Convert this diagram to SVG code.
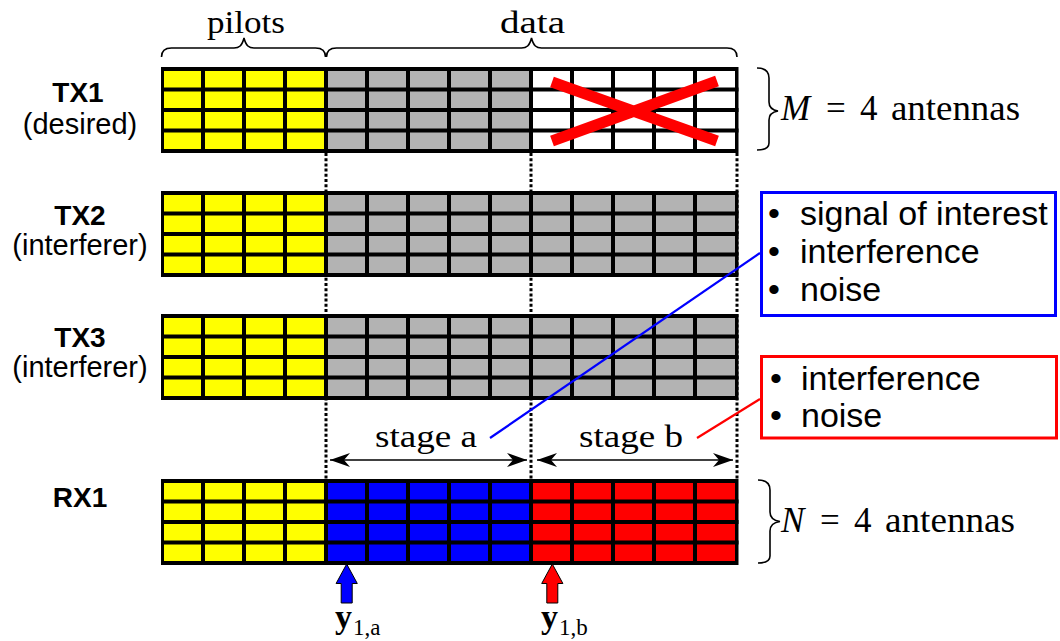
<svg xmlns="http://www.w3.org/2000/svg" xmlns:xlink="http://www.w3.org/1999/xlink" width="1060" height="641" viewBox="0 0 1060 641">
<style>
.frame{fill:#000}
.yel{fill:#FFFF00}
.gry{fill:#B3B3B3}
.wht{fill:#FFFFFF}
.blu{fill:#0000FF}
.red{fill:#FF0000}
.lblb{font-family:"Liberation Sans",Arial,sans-serif;font-weight:bold;font-size:28px;fill:#000;text-anchor:middle}
.lbln{font-family:"Liberation Sans",Arial,sans-serif;font-size:29px;fill:#000;text-anchor:middle}
.ser{font-family:"Liberation Serif","Times New Roman",serif;fill:#000}
.brace{fill:none;stroke:#000;stroke-width:1.6}
.dots{stroke:#000;stroke-width:3;stroke-dasharray:3 2.2;fill:none}
.leg{font-family:"Liberation Sans",Arial,sans-serif;font-size:34px;fill:#000}
</style>
<defs>
<path id="grid" fill="none" stroke="#000" stroke-width="4" d="M203,0V86 M244,0V86 M285,0V86 M326,0V86 M367,0V86 M408,0V86 M449,0V86 M490,0V86 M531,0V86 M572,0V86 M613,0V86 M654,0V86 M695,0V86 M161,22.5H738.5 M161,43H738.5 M161,63.5H738.5"/>
<marker id="ah" viewBox="-21 -8 22 16" refX="0" refY="0" markerWidth="22" markerHeight="16" markerUnits="userSpaceOnUse" orient="auto-start-reverse">
<path d="M0,0 L-20,-7 L-14,0 L-20,7 Z" fill="#000"/>
</marker>
</defs>
<rect width="1060" height="641" fill="#FFFFFF"/>

<g id="braces">
<path class="brace" d="M161.5,57 C161.5,51 164.5,48 171.5,48 L234,48 C239,48 242,46 244,38 C246,46 249,48 254,48 L315.5,48 C322.5,48 325.5,51 325.5,57"/>
<path class="brace" d="M326.5,57 C326.5,51 329.5,48 336.5,48 L521.5,48 C526.5,48 529.5,46 531.5,38 C533.5,46 536.5,48 541.5,48 L727,48 C734,48 737,51 737,57"/>
<text class="ser" x="207" y="32.5" font-size="32" textLength="78" lengthAdjust="spacingAndGlyphs">pilots</text>
<text class="ser" x="500" y="32.5" font-size="32" textLength="65" lengthAdjust="spacingAndGlyphs">data</text>
<path class="brace" d="M757,68 C764,68 769,71 769,78 L769,102 C769,107 772,110 778,111 C772,112 769,115 769,120 L769,143 C769,148 764,150 757,150"/>
<text class="ser" y="120" font-size="35"><tspan x="781" font-style="italic">M</tspan><tspan x="826">=</tspan><tspan x="860">4</tspan><tspan x="891" textLength="129" lengthAdjust="spacingAndGlyphs">antennas</tspan></text>
<path class="brace" d="M758,480 C765,480 770,483 770,490 L770,512 C770,517 773,520.5 780,521.5 C773,522.5 770,526 770,531 L770,556 C770,561 765,563 758,563"/>
<text class="ser" y="531.5" font-size="35"><tspan x="781" font-style="italic">N</tspan><tspan x="820">=</tspan><tspan x="854">4</tspan><tspan x="885" textLength="130" lengthAdjust="spacingAndGlyphs">antennas</tspan></text>
</g>

<g id="dotted-guides">
<path class="dots" d="M326,153V479 M531,153V479 M737,153V479"/>
</g>

<g id="tx1">
<g transform="translate(0,67)">
<rect class="frame" x="161" y="0" width="577.5" height="86"/>
<rect class="yel" x="164" y="4" width="162" height="78"/>
<rect class="gry" x="326" y="4" width="205" height="78"/>
<rect class="wht" x="531" y="4" width="204" height="78"/>
<use xlink:href="#grid" href="#grid"/>
</g>
<path d="M552,82 L717,141 M552,141 L717,81" stroke="#FF0000" stroke-width="11" fill="none"/>
<text class="lblb" x="78" y="101.5">TX1</text>
<text class="lbln" x="80" y="134">(desired)</text>
</g>

<g id="tx2">
<g transform="translate(0,191)">
<rect class="frame" x="161" y="0" width="577.5" height="86"/>
<rect class="yel" x="164" y="4" width="162" height="78"/>
<rect class="gry" x="326" y="4" width="409" height="78"/>
<use xlink:href="#grid" href="#grid"/>
</g>
<text class="lblb" x="80" y="225">TX2</text>
<text class="lbln" x="80" y="254.5">(interferer)</text>
</g>

<g id="tx3">
<g transform="translate(0,314)">
<rect class="frame" x="161" y="0" width="577.5" height="86"/>
<rect class="yel" x="164" y="4" width="162" height="78"/>
<rect class="gry" x="326" y="4" width="409" height="78"/>
<use xlink:href="#grid" href="#grid"/>
</g>
<text class="lblb" x="80" y="347">TX3</text>
<text class="lbln" x="80" y="377">(interferer)</text>
</g>

<g id="rx1">
<g transform="translate(0,479)">
<rect class="frame" x="161" y="0" width="577.5" height="86"/>
<rect class="yel" x="164" y="4" width="162" height="78"/>
<rect class="blu" x="326" y="4" width="205" height="78"/>
<rect class="red" x="531" y="4" width="204" height="78"/>
<use xlink:href="#grid" href="#grid"/>
</g>
<text class="lblb" x="80" y="507">RX1</text>
</g>

<g id="stage-labels">
<text class="ser" x="375" y="447" font-size="32" textLength="102" lengthAdjust="spacingAndGlyphs">stage a</text>
<text class="ser" x="579" y="447" font-size="32" textLength="104" lengthAdjust="spacingAndGlyphs">stage b</text>
</g>

<g id="connectors">
<line x1="330" y1="460" x2="527" y2="460" stroke="#000" stroke-width="1.5" marker-start="url(#ah)" marker-end="url(#ah)"/>
<line x1="537" y1="460" x2="733" y2="460" stroke="#000" stroke-width="1.5" marker-start="url(#ah)" marker-end="url(#ah)"/>
<line x1="490" y1="438" x2="760" y2="253" stroke="#0000FF" stroke-width="2.2"/>
<line x1="697" y1="438" x2="760" y2="399" stroke="#FF0000" stroke-width="2.2"/>
<polygon points="346.7,564 357.3,583.5 352.2,583.5 352.2,603 341.2,603 341.2,583.5 336.1,583.5" fill="#0000FF" stroke="#000" stroke-width="1"/>
<polygon points="552.3,564 562.9,583.5 557.8,583.5 557.8,603 546.8,603 546.8,583.5 541.7,583.5" fill="#FF0000" stroke="#000" stroke-width="1"/>
</g>

<g id="y1a">
<text class="ser" y="628"><tspan x="335" font-size="34" font-weight="bold">y</tspan><tspan x="353" y="635" font-size="23">1,a</tspan></text>
</g>
<g id="y1b">
<text class="ser" y="628"><tspan x="541" font-size="34" font-weight="bold">y</tspan><tspan x="559" y="635" font-size="23">1,b</tspan></text>
</g>

<g id="legend-blue">
<rect x="761.5" y="192.5" width="294" height="123" fill="#FFFFFF" stroke="#0000FF" stroke-width="3"/>
<text class="leg" x="774" y="225" text-anchor="middle">•</text>
<text class="leg" x="800" y="225">signal of interest</text>
<text class="leg" x="774" y="263" text-anchor="middle">•</text>
<text class="leg" x="800" y="263">interference</text>
<text class="leg" x="774" y="301" text-anchor="middle">•</text>
<text class="leg" x="800" y="301">noise</text>
</g>

<g id="legend-red">
<rect x="761.5" y="356.5" width="295" height="81.5" fill="#FFFFFF" stroke="#FF0000" stroke-width="3"/>
<text class="leg" x="776" y="390" text-anchor="middle">•</text>
<text class="leg" x="801" y="390">interference</text>
<text class="leg" x="776" y="427" text-anchor="middle">•</text>
<text class="leg" x="801" y="427">noise</text>
</g>
</svg>
